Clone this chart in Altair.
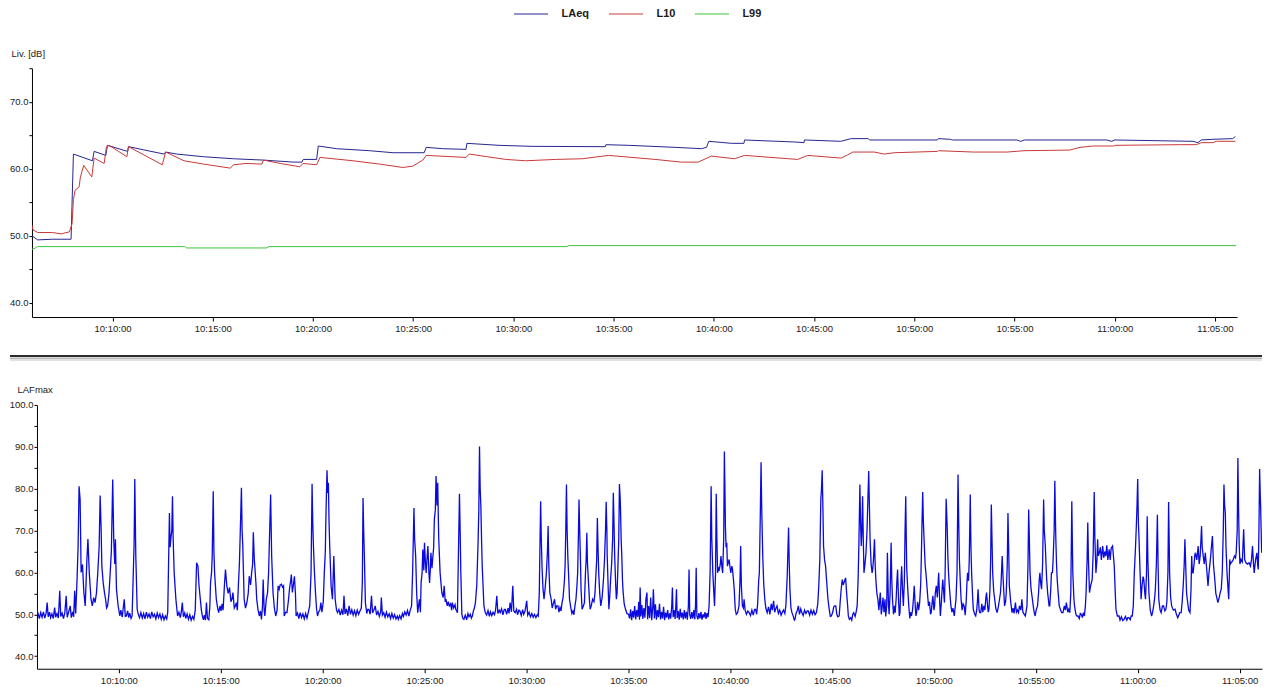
import altair as alt
import pandas as pd

# ---- data (seconds after 10:00:00, level in dB) ----
laeq = [(359,50.0),(362,49.9),(376,49.4),(420,49.5),(476,49.5),(483,62.2),(540,61.2),(545,62.6),(580,62.0),(585,63.5),
        (645,62.6),(648,63.3),(754,62.2),(759,62.5),(792,62.2),(873,61.8),(962,61.5),(1052,61.3),(1141,61.0),(1167,61.0),
        (1171,61.4),(1211,61.4),(1216,63.4),(1271,63.0),(1370,62.7),(1440,62.4),(1533,62.4),(1539,63.2),(1588,63.0),(1658,62.9),
        (1661,63.8),(1757,63.5),(1856,63.35),(2075,63.3),(2077,63.6),(2145,63.5),(2284,63.2),(2363,63.0),(2378,63.2),(2385,64.1),
        (2453,63.8),(2490,63.8),(2492,64.3),(2641,64.0),(2670,63.9),(2671,64.3),(2780,64.1),(2811,64.5),(2862,64.5),(2866,64.3),
        (3069,64.3),(3072,64.5),(3108,64.4),(3114,64.3),(3307,64.3),(3318,64.1),(3330,64.3),(3576,64.3),(3591,64.1),(3600,64.3),
        (3834,64.1),(3849,63.9),(3859,64.3),(3894,64.4),(3953,64.5),(3961,64.8)]

l10 = [(359,51.6),(362,50.9),(376,50.5),(420,50.5),(446,50.3),(471,50.6),(479,51.8),(483,55.4),(488,56.8),(500,57.3),
       (504,58.8),(514,60.5),(538,58.8),(545,61.6),(575,60.8),(582,63.3),(590,63.5),(643,61.8),(648,63.3),(749,60.6),
       (759,62.5),(814,61.2),(873,60.7),(953,60.1),(962,60.6),(1000,60.8),(1047,60.7),(1052,61.3),(1102,60.8),(1161,60.3),
       (1170,60.8),(1211,60.6),(1221,61.7),(1320,61.2),(1400,60.7),(1469,60.2),(1499,60.4),(1529,61.3),(1539,62.0),(1658,61.7),
       (1668,62.2),(1777,61.4),(1837,61.2),(1926,61.4),(2006,61.5),(2085,62.0),(2224,61.4),(2303,61.0),(2353,61.0),(2393,61.9),
       (2462,61.5),(2492,62.0),(2651,61.4),(2681,62.0),(2781,61.6),(2801,62.1),(2816,62.5),(2880,62.5),(2910,62.2),(2940,62.4),
       (3069,62.6),(3072,62.7),(3178,62.5),(3278,62.5),(3328,62.7),(3466,62.8),(3496,63.2),(3536,63.4),(3596,63.4),(3602,63.5),
       (3794,63.6),(3844,63.6),(3859,63.9),(3894,63.9),(3904,64.1),(3961,64.1)]

l99 = [(359,48.0),(366,48.1),(375,48.4),(816,48.4),(822,48.2),(1062,48.2),(1068,48.4),(1962,48.4),(1965,48.55),(3963,48.55)]

lafmax = [
    (358,51.5),(362,50.2),(366,49.0),(370,50.4),(374,49.3),(378,50.6),(382,49.1),(386,50.3),(389,52.8),(392,49.4),(396,50.5),
    (399,49.2),(403,50.1),(407,49.0),(411,51.6),(414,49.3),(418,50.2),(422,49.1),(426,55.6),(429,49.5),(433,50.3),(437,49.0),
    (441,50.4),(445,54.4),(448,49.3),(452,50.5),(457,52.0),(460,49.2),(464,50.6),(467,49.4),(470,55.6),(473,50.2),
    (477,58.3),(480,66.0),(483,80.6),(486,77.4),(489,60.0),(493,61.9),(497,55.2),(501,52.0),(506,63.1),(509,68.0),(513,59.9),
    (518,53.6),(522,52.0),(526,54.0),(530,52.8),(534,55.0),(538,59.9),(542,66.0),(545,78.4),(548,70.0),(550,61.5),(554,57.5),
    (558,55.0),(561,53.6),(564,51.5),(567,52.0),(571,55.0),(574,59.1),(578,65.0),(582,82.2),(585,67.9),(588,62.0),(590,67.9),
    (593,56.0),(598,52.0),(603,49.6),(606,51.0),(610,49.3),(613,51.5),(616,53.6),(619,49.5),(622,49.6),(626,50.8),(629,49.2),
    (632,50.3),(636,49.0),(639,49.6),(642,58.0),(645,67.1),(647,82.3),(650,63.9),(654,51.2),(658,49.8),(661,49.2),
    (665,50.4),(669,49.1),(673,50.2),(677,48.9),(681,50.5),(685,49.3),(689,50.1),(693,49.0),(697,50.6),(701,49.4),(705,50.0),
    (709,48.9),(713,50.3),(717,49.2),(721,50.1),(725,48.8),(729,49.9),(733,48.7),(737,49.6),(741,48.9),(744,50.5),
    (749,74.2),(751,66.0),(753,67.9),(756,70.0),(758,78.2),(760,68.0),(763,59.9),(768,53.6),(773,49.6),(777,50.5),(781,49.2),
    (784,50.6),(787,52.8),(790,49.4),(794,50.3),(797,49.0),(801,50.1),(805,48.8),(809,49.9),(813,48.6),(817,49.5),(821,48.8),
    (825,51.0),(829,62.3),(833,61.5),(836,57.0),(839,54.4),(843,51.0),(846,49.6),(849,48.7),(852,49.8),(855,48.6),(858,52.8),
    (861,49.0),(865,48.7),(868,52.0),(870,57.5),(873,60.0),(875,63.9),(878,79.4),(880,65.0),(882,59.9),(887,53.6),(891,51.5),
    (894,50.4),(898,52.0),(901,50.8),(904,52.5),(907,51.0),(911,57.0),(914,60.7),(918,56.8),(922,55.0),(926,56.4),(930,53.0),
    (933,53.6),(936,55.2),(940,51.5),(943,52.0),(946,52.8),(949,51.0),(952,56.8),(955,62.0),(957,67.9),(961,80.2),(963,70.0),
    (965,66.3),(969,53.6),(973,51.5),(977,52.8),(981,55.0),(984,59.1),(988,57.0),(991,59.9),(994,62.0),(996,69.6),(999,63.0),
    (1001,60.7),(1004,57.0),(1006,53.6),(1010,51.0),(1014,49.6),(1017,50.8),(1020,48.8),(1023,52.0),(1025,58.3),(1028,51.0),
    (1030,49.6),(1034,53.5),(1038,55.2),(1041,60.0),(1043,66.3),(1047,78.6),(1050,63.9),(1054,55.2),(1058,51.5),(1062,49.6),
    (1066,51.0),(1069,56.8),(1072,56.0),(1075,57.0),(1079,57.2),(1082,56.5),(1085,56.8),(1087,49.6),(1091,50.5),(1095,50.4),
    (1099,53.0),(1103,56.4),(1106,58.0),(1108,59.5),(1111,55.2),(1114,57.0),(1117,59.1),(1120,55.0),(1122,49.6),
    (1126,50.3),(1130,49.0),(1134,50.4),(1138,49.2),(1142,50.1),(1146,48.9),(1150,50.2),(1154,49.1),(1158,50.5),(1162,52.0),
    (1166,59.9),(1169,81.2),(1171,72.0),(1173,66.3),(1176,60.0),(1179,55.2),(1182,51.5),(1185,49.6),(1188,50.5),(1192,51.0),
    (1195,52.8),(1198,50.5),(1202,53.0),(1205,59.9),(1208,65.0),(1210,74.2),(1213,84.4),(1215,79.0),(1217,81.4),(1219,72.0),
    (1221,66.3),(1225,56.8),(1229,53.6),(1233,63.9),(1237,53.6),(1241,51.0),(1244,50.4),
    (1248,51.2),(1252,49.8),(1256,51.0),(1260,49.9),(1263,54.4),(1266,50.1),(1270,51.3),(1274,49.7),(1278,52.0),(1282,50.0),
    (1286,51.1),(1290,49.8),(1294,50.9),(1298,49.7),(1302,51.0),(1306,50.0),(1310,50.8),(1314,51.5),(1317,57.5),(1319,77.8),
    (1321,70.0),(1323,63.9),(1326,52.8),(1330,50.2),(1333,51.2),(1336,51.2),(1340,50.0),(1344,54.4),(1347,50.3),(1351,51.0),
    (1355,52.0),(1359,49.8),(1363,50.7),(1367,49.5),(1371,50.6),(1373,54.0),(1376,49.8),(1380,50.4),(1384,49.3),(1388,50.5),
    (1392,49.4),(1396,50.1),(1400,49.0),(1404,50.2),(1408,49.1),(1412,49.9),(1416,48.9),(1420,49.6),(1423,48.8),(1427,49.7),
    (1431,48.9),(1435,50.2),(1438,49.5),(1442,50.6),(1446,49.8),(1450,50.9),(1454,49.6),(1458,51.0),(1462,52.0),(1465,59.9),
    (1469,75.4),(1471,68.0),(1474,63.9),(1477,55.0),(1480,50.4),
    (1485,53.6),(1488,50.5),(1490,57.5),(1493,60.0),(1495,65.5),(1498,60.5),(1500,67.1),(1503,62.0),(1505,59.9),(1508,64.0),
    (1510,66.3),(1513,60.0),(1515,57.5),(1517,60.5),(1519,64.7),(1522,61.0),(1524,63.1),(1527,66.0),(1529,72.6),(1532,75.0),
    (1534,83.0),(1537,76.0),(1539,81.4),(1541,72.0),(1542,67.9),(1546,59.9),(1551,55.2),(1555,54.0),(1558,56.8),(1561,53.0),
    (1563,53.6),(1567,52.0),(1570,53.0),(1573,52.0),(1577,52.5),(1580,51.0),(1582,52.8),(1586,51.5),(1590,52.3),(1592,51.2),
    (1595,50.8),(1597,50.4),(1600,64.7),(1603,78.8),(1605,70.0),(1607,59.9),(1610,50.0),(1613,49.0),(1616,48.8),(1620,49.8),
    (1624,48.7),(1628,50.2),(1631,49.4),(1635,50.0),(1638,49.1),(1641,49.6),(1644,50.8),(1647,51.5),(1650,52.8),(1654,57.0),
    (1658,67.9),(1660,75.0),(1662,90.1),(1664,80.0),(1666,75.8),(1668,68.0),(1670,61.5),(1675,52.0),(1679,50.4),(1683,49.8),
    (1687,50.9),(1691,49.5),(1694,50.6),(1698,49.7),(1702,50.5),(1706,49.9),(1709,50.8),(1713,54.4),(1716,50.2),(1720,51.0),
    (1723,50.4),(1727,51.3),(1731,49.9),(1735,51.2),(1738,51.2),(1742,50.0),(1746,51.5),(1749,50.2),(1752,52.8),(1756,50.6),
    (1760,56.8),(1763,50.8),(1767,50.4),(1771,51.2),(1774,49.9),(1778,51.0),(1781,50.8),(1785,49.7),(1789,51.1),(1792,50.0),
    (1796,50.8),(1801,53.2),(1804,49.8),(1808,50.5),(1812,49.4),(1816,50.2),(1820,49.3),(1824,50.0),(1828,49.2),(1832,49.9),
    (1835,49.6),(1838,55.0),(1840,66.3),(1842,77.0),(1844,68.0),(1846,61.5),(1849,56.0),(1852,53.6),(1855,56.0),(1859,59.9),
    (1862,65.0),(1864,71.1),(1866,62.0),(1869,55.2),(1873,53.6),(1876,51.5),(1879,52.5),(1883,53.6),(1886,51.2),(1889,52.0),
    (1893,52.0),(1896,50.5),(1899,51.6),(1902,50.8),(1905,52.8),(1908,54.0),(1910,56.0),(1912,58.0),(1914,61.5),(1916,70.0),
    (1918,81.0),(1920,70.0),(1922,63.9),(1925,58.0),(1927,53.6),(1931,51.5),(1934,50.2),(1937,50.8),(1940,49.9),(1943,52.0),
    (1946,53.6),(1949,57.0),(1951,59.9),(1953,68.0),(1955,77.4),(1957,70.0),(1959,63.9),(1961,56.0),(1964,51.2),(1967,51.8),
    (1971,52.8),(1974,60.0),(1976,63.0),(1978,69.5),(1980,62.0),(1983,57.5),(1986,53.0),(1988,51.2),(1991,52.0),(1995,53.6),
    (1999,53.0),(2002,55.0),(2004,58.3),(2007,63.0),(2009,73.0),(2011,66.0),(2013,59.9),(2016,55.0),(2019,52.0),(2023,54.0),
    (2027,58.3),(2030,63.0),(2033,70.0),(2035,76.9),(2037,70.0),(2038,63.9),(2041,56.0),(2043,51.2),(2046,55.0),(2048,58.3),
    (2051,62.0),(2054,68.0),(2056,79.0),(2058,72.0),(2060,63.9),(2063,57.0),(2065,53.6),(2067,55.0),(2069,59.9),(2072,68.0),
    (2074,81.1),(2076,78.0),(2077,75.8),(2079,68.0),(2081,63.9),(2083,58.0),(2085,55.2),(2088,52.5),(2092,51.2),(2096,50.2),
    (2101,50.0),
    (2104,49.0),(2107,51.2),(2110,48.6),(2113,50.8),(2116,49.2),(2119,52.0),(2122,48.8),(2125,51.0),(2128,49.4),(2131,53.0),
    (2133,48.7),(2135,56.4),(2137,49.5),(2140,52.2),(2143,48.9),(2146,51.5),(2149,49.2),(2152,53.6),(2155,55.2),(2157,48.8),
    (2160,52.0),(2163,49.1),(2166,54.0),(2169,48.6),(2172,51.6),(2174,56.0),(2177,49.0),(2180,52.4),(2183,48.7),(2186,51.0),
    (2189,49.3),(2192,52.5),(2195,48.8),(2198,50.6),(2201,49.0),(2204,51.8),(2207,48.6),(2210,50.4),(2213,49.2),(2216,51.0),
    (2219,48.8),(2222,50.2),(2225,49.0),(2228,52.0),(2230,56.4),(2232,49.3),(2235,51.0),(2238,48.9),(2240,52.0),(2242,56.0),
    (2244,49.1),(2247,50.8),(2250,48.7),(2253,51.3),(2256,49.2),(2259,50.4),(2262,48.8),(2265,51.0),(2268,49.0),(2271,50.6),
    (2274,48.7),(2277,52.0),(2279,60.7),(2281,50.0),(2284,48.9),(2287,50.5),(2290,49.0),(2293,51.0),(2296,48.8),(2298,52.0),
    (2300,61.1),(2302,49.6),(2305,48.8),(2308,50.3),(2311,49.0),(2314,50.6),(2317,48.7),(2320,50.0),(2323,49.2),(2326,50.5),
    (2329,48.9),(2332,50.3),(2335,49.3),(2338,52.0),
    (2341,60.0),(2344,80.6),(2346,68.0),(2349,59.9),(2352,55.0),(2354,52.0),(2357,60.0),(2359,78.8),(2361,68.0),(2363,59.9),
    (2366,61.0),(2368,60.7),(2371,62.0),(2373,63.9),(2376,61.0),(2378,59.9),(2381,68.0),(2383,88.9),(2385,78.0),(2386,71.1),
    (2388,66.0),(2390,67.1),(2392,61.5),(2395,62.5),(2397,63.1),(2400,61.0),(2402,59.9),(2405,61.5),(2407,60.7),(2410,58.0),
    (2412,56.0),(2415,51.2),(2418,50.0),(2422,50.4),(2426,52.0),(2429,58.0),(2431,66.3),(2433,57.0),(2436,52.0),(2439,51.5),
    (2441,53.6),(2444,51.0),(2448,50.0),(2452,50.8),(2456,50.4),(2460,49.7),(2464,51.0),(2468,49.8),(2472,51.2),(2475,51.2),
    (2478,50.0),(2481,52.5),(2484,58.0),(2486,59.9),(2489,75.0),(2491,86.3),(2493,75.0),(2496,63.9),(2499,57.0),(2502,53.6),
    (2505,51.5),(2509,50.4),(2513,51.8),(2517,50.0),(2521,52.5),(2524,51.0),(2528,53.2),(2531,50.5),(2535,51.5),(2538,52.0),
    (2542,50.2),(2546,51.0),(2550,49.8),(2553,50.4),(2557,51.0),(2561,50.2),(2564,52.0),(2568,59.0),(2570,65.0),(2572,70.7),
    (2574,62.0),(2576,56.0),(2579,51.5),(2582,50.4),(2586,49.5),(2589,48.6),(2591,48.8),(2594,50.2),(2597,50.8),(2601,52.0),
    (2604,50.0),(2608,51.3),(2611,50.4),(2615,49.7),(2619,51.0),(2623,50.2),(2627,50.8),(2630,50.8),(2634,49.8),(2638,51.0),
    (2642,50.0),(2646,50.9),(2650,49.9),(2654,50.4),(2658,52.5),(2661,56.8),(2664,63.0),(2667,77.4),(2669,80.0),(2671,84.4),
    (2673,76.0),(2675,66.3),(2678,63.0),(2681,61.5),(2684,58.0),(2688,53.6),(2692,51.0),(2695,49.5),(2698,49.6),(2702,50.5),
    (2705,51.8),(2708,52.0),
    (2711,52.0),(2714,50.0),(2717,49.4),(2721,49.6),(2724,53.0),(2727,56.0),(2730,58.3),(2733,57.0),(2737,58.0),(2740,58.7),
    (2743,55.0),(2746,52.0),(2748,49.6),(2751,48.8),(2755,49.2),(2758,48.6),(2761,50.0),(2764,50.4),(2768,49.5),(2771,50.6),
    (2774,52.0),(2777,59.0),(2779,66.3),(2782,81.0),(2784,72.0),(2786,66.3),(2788,70.0),(2790,78.2),(2792,68.0),(2794,59.9),
    (2797,62.0),(2800,64.7),(2803,70.0),(2805,75.8),(2808,84.2),(2810,76.0),(2812,67.9),(2815,62.0),(2818,59.9),(2820,61.0),
    (2822,63.1),(2825,67.9),(2827,62.0),(2829,58.3),(2832,55.0),(2835,53.6),(2838,51.0),(2842,55.2),(2845,50.0),(2847,51.2),
    (2850,54.0),(2853,50.5),(2856,53.6),(2858,49.5),(2861,52.0),(2863,64.7),(2866,52.8),(2868,50.0),(2871,55.0),(2874,67.1),
    (2876,58.0),(2878,53.6),(2881,50.0),(2884,52.0),(2886,50.4),(2889,54.0),(2891,58.0),(2893,60.7),(2896,53.0),(2898,49.6),
    (2900,50.4),(2903,58.0),(2905,61.5),(2908,55.0),(2910,52.0),(2913,58.0),(2915,70.0),(2917,78.2),(2919,66.0),(2920,60.7),
    (2923,56.0),(2926,52.0),(2929,49.0),(2931,50.5),(2934,49.6),(2937,51.0),(2940,54.0),(2942,56.8),(2945,52.0),(2947,49.6),
    (2949,50.4),(2952,53.0),(2955,51.0),(2958,52.8),(2961,57.0),(2963,63.9),(2965,72.0),(2967,79.2),(2969,72.0),(2971,67.9),
    (2974,62.0),(2978,58.3),(2981,55.0),(2984,52.0),(2987,53.0),(2990,50.0),(2992,50.4),(2995,53.0),(2997,54.4),(3000,51.0),
    (3002,52.0),(3004,55.0),(3007,56.8),(3010,54.0),(3012,57.0),(3014,59.9),(3017,53.0),(3019,49.6),(3022,53.0),(3024,56.0),
    (3026,58.3),(3029,55.0),(3031,52.8),(3033,60.0),(3036,77.6),(3039,71.1),(3041,64.0),(3043,59.9),(3046,56.0),(3050,52.0),
    (3053,50.5),(3056,51.5),(3060,49.6),(3063,52.0),(3065,53.6),(3068,60.0),(3071,83.4),(3073,72.0),(3075,63.1),(3078,57.0),
    (3080,53.6),(3083,51.0),(3086,52.5),(3089,52.0),(3092,49.8),(3095,53.0),(3097,57.0),(3099,59.9),(3102,58.0),(3104,63.0),
    (3107,78.6),(3109,66.0),(3111,59.9),(3114,54.0),(3116,51.2),(3120,50.0),(3123,49.6),(3126,51.0),(3128,53.0),(3130,56.0),
    (3133,51.0),(3135,50.4),(3138,50.4),(3141,52.5),(3144,50.5),(3147,52.0),(3150,51.0),(3153,54.0),(3155,55.2),(3158,52.0),
    (3160,50.5),(3162,51.2),(3165,56.0),(3167,63.0),(3169,76.2),(3171,68.0),(3173,59.9),(3176,55.5),(3179,53.6),(3182,51.5),
    (3186,50.4),(3189,51.5),(3192,53.0),(3196,55.2),(3198,58.0),(3201,63.9),(3204,58.0),(3208,52.0),(3211,53.0),(3213,55.2),
    (3216,62.0),(3218,74.2),(3220,66.0),(3222,56.8),(3226,53.0),(3230,50.4),(3233,51.5),(3236,50.2),(3240,52.8),(3243,50.5),
    (3246,51.0),(3249,50.4),(3252,52.0),(3256,51.0),(3259,53.6),(3262,50.5),(3266,50.0),(3269,49.6),(3272,51.0),(3274,52.0),
    (3277,62.0),(3279,75.0),(3281,68.0),(3283,59.9),(3286,56.0),(3290,53.6),(3294,51.0),(3298,49.6),(3301,51.0),(3305,52.0),
    (3308,55.0),(3310,58.0),(3312,59.9),(3315,57.0),(3317,56.0),(3320,62.0),(3323,77.4),(3325,70.0),(3328,66.3),(3330,62.0),
    (3332,58.3),(3335,55.0),(3337,53.6),(3339,52.0),(3341,52.0),(3344,56.0),(3346,59.9),(3349,60.0),(3351,63.1),(3354,70.0),
    (3356,81.9),(3358,72.0),(3359,67.9),(3361,62.0),(3363,58.3),(3366,55.0),(3369,52.0),(3373,51.0),(3376,50.4),(3380,50.4),
    (3384,52.0),(3387,51.0),(3390,52.8),(3394,50.5),(3397,51.2),(3400,50.4),(3403,55.0),(3406,77.0),(3408,65.0),(3409,59.9),
    (3412,54.0),(3414,52.0),(3418,50.0),(3421,49.6),(3424,49.6),(3428,49.0),(3431,50.2),(3434,50.0),(3437,49.2),(3440,50.4),
    (3443,49.6),(3446,52.0),(3448,55.2),(3451,63.0),(3453,71.9),(3455,63.0),(3458,55.2),(3462,57.0),(3466,58.3),(3469,65.0),
    (3472,79.2),(3474,68.0),(3477,59.9),(3480,63.0),(3482,67.9),(3484,64.0),(3487,64.7),(3490,66.0),(3493,63.0),(3497,66.3),
    (3500,63.5),(3503,65.0),(3506,63.9),(3509,66.5),(3512,63.0),(3516,65.5),(3519,63.0),(3522,65.8),(3526,66.3),(3529,63.5),
    (3531,61.5),(3534,55.0),(3536,51.2),(3540,49.6),(3545,49.6),(3548,48.6),(3552,49.4),(3556,48.5),(3560,48.8),(3564,49.5),
    (3568,48.6),(3571,49.2),(3574,49.2),(3578,48.7),(3581,49.6),(3584,49.6),(3587,52.0),(3590,59.9),(3593,65.0),(3596,71.1),
    (3598,76.0),(3600,82.3),(3602,72.0),(3604,67.9),(3607,60.0),(3610,53.6),(3613,57.0),(3616,59.0),(3618,58.3),(3621,55.0),
    (3623,53.6),(3626,60.0),(3628,73.4),(3630,63.0),(3633,55.2),(3637,51.0),(3641,49.6),(3644,50.5),(3647,52.0),(3650,54.0),
    (3652,56.0),(3655,62.0),(3658,73.8),(3660,62.0),(3662,53.6),(3666,51.0),(3669,50.4),(3673,52.0),(3676,52.0),(3680,50.8),
    (3683,51.2),(3686,53.0),(3689,60.0),(3691,76.8),(3693,66.0),(3694,59.9),(3697,54.0),(3700,52.0),(3705,51.0),(3710,51.2),
    (3714,50.0),(3718,49.2),(3720,49.6),(3724,50.4),(3728,50.4),(3731,53.0),(3734,56.8),(3737,62.0),(3739,67.9),(3742,60.0),
    (3744,55.0),(3746,53.6),(3750,51.0),(3754,50.4),(3757,56.0),(3759,63.9),(3761,60.0),(3763,59.9),(3766,62.0),(3768,64.0),
    (3770,64.7),(3774,63.0),(3778,66.3),(3781,62.0),(3784,64.0),(3788,71.1),(3790,66.0),(3793,63.9),(3796,62.0),(3799,64.7),
    (3803,61.0),(3807,56.8),(3810,60.0),(3812,61.5),(3815,64.0),(3817,66.0),(3820,68.7),(3823,62.0),(3827,58.3),(3830,55.0),
    (3833,54.0),(3836,52.8),(3840,54.0),(3843,55.2),(3846,56.0),(3849,60.0),(3852,70.0),(3854,81.0),(3856,76.0),(3858,74.2),
    (3860,66.0),(3863,59.9),(3866,56.0),(3868,53.6),(3871,63.1),(3873,62.0),(3875,62.3),(3880,62.8),(3885,63.9),(3888,63.5),
    (3890,64.7),(3893,70.0),(3895,87.3),(3897,75.0),(3899,66.3),(3901,62.0),(3904,63.1),(3908,62.5),(3912,70.3),(3915,63.0),
    (3919,62.3),(3923,62.0),(3928,62.3),(3932,61.5),(3935,63.0),(3938,66.3),(3941,62.0),(3943,59.9),(3947,63.0),(3951,64.7),
    (3953,62.0),(3955,60.7),(3957,70.0),(3959,84.7),(3961,78.0),(3962,75.8),(3964,68.0),(3965,64.7)]

series_names = ["LAeq", "L10", "L99"]
series_colors = ["#25258f", "#c83838", "#3cc43c"]
tick_minutes = [10, 15, 20, 25, 30, 35, 40, 45, 50, 55, 60, 65]
top_y_ticks = [40, 45, 50, 55, 60, 65, 70, 75]
bottom_y_ticks = [40, 45, 50, 55, 60, 65, 70, 75, 80, 85, 90, 95, 100]

# ---- build tables ----
BASE = pd.Timestamp("2024-01-01 10:00:00")


def to_time(sec):
    return BASE + pd.to_timedelta(sec, unit="s")


rows = []
for name, series in zip(series_names, (laeq, l10, l99)):
    for s, v in series:
        rows.append({"time": to_time(s), "level": v, "series": name})
top_df = pd.DataFrame(rows)
bot_df = pd.DataFrame({"time": [to_time(s) for s, _ in lafmax],
                       "level": [v for _, v in lafmax]})


def dt(h, m, s=0):
    return alt.DateTime(year=2024, month=1, date=1, hours=h, minutes=m, seconds=s)


x_ticks = [dt(10 + m // 60, m % 60) for m in tick_minutes]
x_domain = [dt(10, 5, 59), dt(11, 6, 6)]
FONT = "Liberation Sans"
LABEL_EXPR = "datum.value % 10 == 0 ? format(datum.value, '.1f') : ''"


def x_enc(pad):
    return alt.X("time:T", scale=alt.Scale(domain=x_domain),
                 axis=alt.Axis(values=x_ticks, format="%H:%M:%S", title=None, grid=False,
                               labelFlush=False, labelOverlap=False, labelFontSize=9.5,
                               tickSize=4, labelPadding=pad))


def y_axis(title, values, tx):
    return alt.Axis(values=values, labelExpr=LABEL_EXPR, title=title, titleAngle=0,
                    titleAlign="left", titleBaseline="middle", titleX=tx, titleY=-15,
                    titleFontWeight="normal", titleFontSize=9.5, labelFontSize=9.5,
                    grid=False, tickSize=3, labelPadding=1)


top = alt.Chart(top_df).mark_line(strokeWidth=1, clip=True).encode(
    x=x_enc(2),
    y=alt.Y("level:Q", scale=alt.Scale(domain=[37.9, 75], nice=False, zero=False),
            axis=y_axis("Liv. [dB]", top_y_ticks, -21)),
    color=alt.Color("series:N",
                    scale=alt.Scale(domain=series_names, range=series_colors),
                    legend=alt.Legend(orient="none", legendX=494, legendY=-60,
                                      direction="horizontal", title=None,
                                      symbolType="M-4,0H4", symbolSize=72.25,
                                      symbolStrokeWidth=1, labelFontWeight="bold",
                                      labelFontSize=11, labelOffset=25, columnPadding=17,
                                      labelFont=FONT, labelColor="#1a1a1a", padding=0)),
    detail="series:N",
).properties(width=1206, height=249)

laf_line = alt.Chart(bot_df).mark_line(strokeWidth=1.3, color="#0a0ade", clip=True).encode(
    x=x_enc(3),
    y=alt.Y("level:Q", scale=alt.Scale(domain=[37, 100], nice=False, zero=False),
            axis=y_axis("LAFmax", bottom_y_ticks, -20)),
)

one = pd.DataFrame({"k": [0]})
sep_dark = alt.Chart(one).mark_rule(color="#2b2b2b", strokeWidth=2).encode(
    x=alt.value(-27), x2=alt.value(1226), y=alt.value(-49))
sep_shadow1 = alt.Chart(one).mark_rule(color="#b8b8b8", strokeWidth=1.5).encode(
    x=alt.value(-27), x2=alt.value(1226), y=alt.value(-46.8))
sep_shadow2 = alt.Chart(one).mark_rule(color="#e2e2e2", strokeWidth=2).encode(
    x=alt.value(-27), x2=alt.value(1226), y=alt.value(-45))

bottom = alt.layer(laf_line, sep_dark, sep_shadow1, sep_shadow2).properties(width=1226, height=264)


def spacer():
    # invisible 1px cell so that each row is packed by its own left extent
    return alt.Chart(one).mark_rule(strokeOpacity=0, strokeWidth=0).encode(
        x=alt.value(0), x2=alt.value(1), y=alt.value(0)).properties(width=1, height=1)


top_row = alt.hconcat(spacer(), top, spacing=0).resolve_scale(color="independent")
bottom_row = alt.hconcat(spacer(), bottom, spacing=0)

chart = alt.vconcat(top_row, bottom_row, spacing=22).resolve_scale(
    color="independent", x="independent", y="independent"
).properties(padding=0).configure_view(stroke=None).configure_axis(
    labelFont=FONT, titleFont=FONT, labelColor="#1a1a1a", titleColor="#1a1a1a",
    domainColor="#000000", tickColor="#000000", domainWidth=1, tickWidth=1
)

chart.save("out.html", embed_options={"renderer": "svg", "actions": False})
